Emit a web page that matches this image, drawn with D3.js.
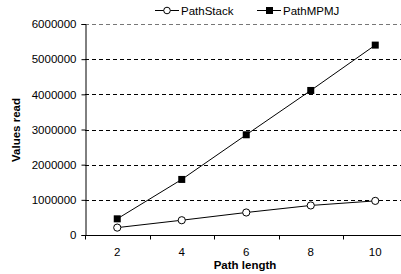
<!DOCTYPE html>
<html>
<head>
<meta charset="utf-8">
<script src="https://cdn.jsdelivr.net/npm/d3@7"></script>
<style>
  body { margin: 0; background: #fff; }
  svg { font-family: Arial, "Liberation Sans", sans-serif; }
</style>
</head>
<body>
<svg id="chart" width="401" height="274"></svg>
<script>
const pathLengths = ["2", "4", "6", "8", "10"];
const pathStack = [210000, 420000, 640000, 840000, 970000];
const pathMPMJ = [460000, 1580000, 2850000, 4110000, 5400000];
const yTicks = [0, 1000000, 2000000, 3000000, 4000000, 5000000, 6000000];

const svg = d3.select("#chart");
const margin = {left: 85, top: 24, bottom: 235};
const fs = 11.5;

let x = d3.scaleBand()
  .domain(pathLengths)
  .range([margin.left, margin.left + 5 * 64.5]);

let y = d3.scaleLinear()
  .domain([0, 6000000])
  .range([margin.bottom, margin.top]);

// gridlines
svg.append("g")
  .selectAll("line")
  .data(yTicks.filter(d => d > 0))
  .enter().append("line")
  .attr("x1", margin.left)
  .attr("x2", 401)
  .attr("y1", d => Math.round(y(d)) + 0.5)
  .attr("y2", d => Math.round(y(d)) + 0.5)
  .attr("stroke", d => d === 6000000 ? "#777" : "#000")
  .attr("stroke-width", 1)
  .attr("stroke-dasharray", "4,3");

// y axis
let yAxis = svg.append("g")
  .attr("transform", `translate(${margin.left + 0.5},0)`)
  .call(d3.axisLeft(y).tickValues(yTicks).tickFormat(d3.format("d"))
    .tickSizeOuter(0).tickSize(4).tickPadding(5));
yAxis.selectAll("text").attr("font-size", fs).attr("fill", "#000");
yAxis.selectAll("line, path").attr("stroke", "#000");

// x axis: ticks at band boundaries
let xg = svg.append("g")
  .attr("transform", `translate(0,${Math.round(y(0)) + 0.5})`);
xg.append("line")
  .attr("x1", margin.left).attr("x2", 401)
  .attr("stroke", "#000");
xg.selectAll("line.tick")
  .data(pathLengths)
  .enter().append("line")
  .classed("tick", true)
  .attr("x1", d => Math.round(x(d)) + 0.5)
  .attr("x2", d => Math.round(x(d)) + 0.5)
  .attr("y1", 0).attr("y2", 4)
  .attr("stroke", "#000");
xg.selectAll("text")
  .data(pathLengths)
  .enter().append("text")
  .attr("x", d => x(d) + x.bandwidth() / 2)
  .attr("y", 20)
  .attr("text-anchor", "middle")
  .attr("font-size", fs)
  .text(d => d);

// lines
let line = d3.line()
  .x((d, i) => x(pathLengths[i]) + x.bandwidth() / 2)
  .y(d => y(d));

[pathMPMJ, pathStack].forEach(s => {
  svg.append("path")
    .datum(s)
    .attr("d", line)
    .attr("fill", "none")
    .attr("stroke", "#000")
    .attr("stroke-width", 1);
});

svg.append("g")
  .selectAll("rect")
  .data(pathMPMJ)
  .enter().append("rect")
  .attr("x", (d, i) => x(pathLengths[i]) + x.bandwidth() / 2 - 3.5)
  .attr("y", d => y(d) - 3.5)
  .attr("width", 7).attr("height", 7)
  .attr("fill", "#000");

svg.append("g")
  .selectAll("circle")
  .data(pathStack)
  .enter().append("circle")
  .attr("cx", (d, i) => x(pathLengths[i]) + x.bandwidth() / 2)
  .attr("cy", d => y(d))
  .attr("r", 3.6)
  .attr("fill", "#fff")
  .attr("stroke", "#000")
  .attr("stroke-width", 1);

// axis titles
svg.append("text")
  .attr("x", 245).attr("y", 269)
  .attr("text-anchor", "middle")
  .attr("font-size", fs).attr("font-weight", "bold")
  .text("Path length");

svg.append("text")
  .attr("transform", "translate(20,130) rotate(-90)")
  .attr("text-anchor", "middle")
  .attr("font-size", fs).attr("font-weight", "bold")
  .text("Values read");

// legend
let legend = svg.append("g");
legend.append("line").attr("x1", 155).attr("x2", 179).attr("y1", 10.5).attr("y2", 10.5).attr("stroke", "#000");
legend.append("circle").attr("cx", 167).attr("cy", 10.5).attr("r", 3.3).attr("fill", "#fff").attr("stroke", "#000");
legend.append("text").attr("x", 181).attr("y", 14.5).attr("font-size", fs).text("PathStack");
legend.append("line").attr("x1", 257).attr("x2", 281).attr("y1", 10.5).attr("y2", 10.5).attr("stroke", "#000");
legend.append("rect").attr("x", 266).attr("y", 7).attr("width", 7).attr("height", 7).attr("fill", "#000");
legend.append("text").attr("x", 283).attr("y", 14.5).attr("font-size", fs).text("PathMPMJ");
</script>
</body>
</html>
